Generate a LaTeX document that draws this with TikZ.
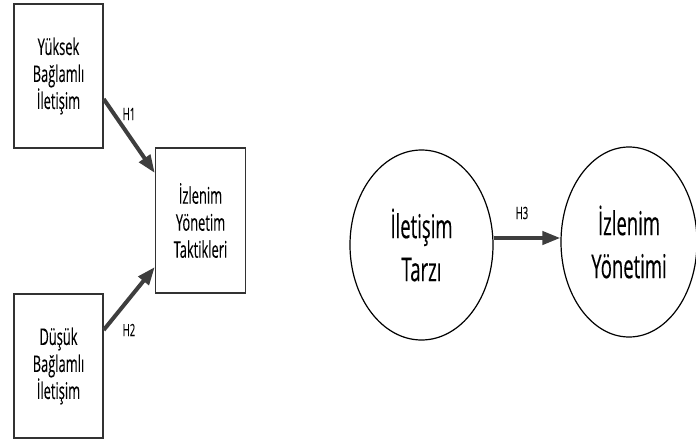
\documentclass[tikz,border=0pt]{standalone}
\usepackage{fontspec}
\setmainfont{Open Sans}[FakeStretch=0.56,FakeBold=0.15]
\usetikzlibrary{arrows.meta,shapes.geometric}
\definecolor{edgegrey}{RGB}{50,50,50}
\definecolor{arrowgrey}{RGB}{62,62,62}
\tikzset{
  varbox/.style={draw=edgegrey,line width=1.4pt,fill=white,align=center,inner sep=0pt,
                 minimum width=89pt,minimum height=144pt,font=\fontsize{23}{27}\selectfont},
  varell/.style={ellipse,draw=black,line width=1.2pt,fill=white,align=center,inner sep=0pt,
                 font=\fontsize{33}{43}\selectfont},
  hyp/.style={-{Triangle[length=18pt,width=13pt]},line width=4pt,draw=arrowgrey},
  hlbl/.style={font=\fontsize{17}{18}\selectfont,inner sep=1pt},
}
\begin{document}
\begin{tikzpicture}[x=1pt,y=-1pt]
  \useasboundingbox (0,0) rectangle (696,439);

  % ---------------- sol: kutular ----------------
  \node[varbox] (yuksek) at (58.5,76) {Yüksek\\Bağlamlı\\İletişim};
  \node[varbox,minimum width=90pt,minimum height=145pt] (taktik) at (200.5,220.5)
    {İzlenim\\Yönetim\\Taktikleri};
  \node[varbox] (dusuk) at (58.5,366) {Düşük\\Bağlamlı\\İletişim};

  \draw[hyp] ([yshift=-23pt]yuksek.east) -- ([yshift=47.5pt]taktik.west);
  \draw[hyp] ([yshift=36pt]dusuk.east) -- ([yshift=-46.5pt]taktik.west);
  \node[hlbl] (h1) at (129,114) {H1};
  \node[hlbl] (h2) at (129,330) {H2};

  % ---------------- sağ: daireler ----------------
  \node[varell,minimum width=143pt,minimum height=190pt] (tarz) at (421.5,245)
    {İletişim\\Tarzı};
  \node[varell,minimum width=136pt,minimum height=190pt] (yonetim) at (629,242)
    {İzlenim\\Yönetimi};

  \draw[hyp] ([yshift=7pt]tarz.east) -- ([yshift=4pt]yonetim.west);
  \node[hlbl] (h3) at (522,213) {H3};
\end{tikzpicture}
\end{document}
